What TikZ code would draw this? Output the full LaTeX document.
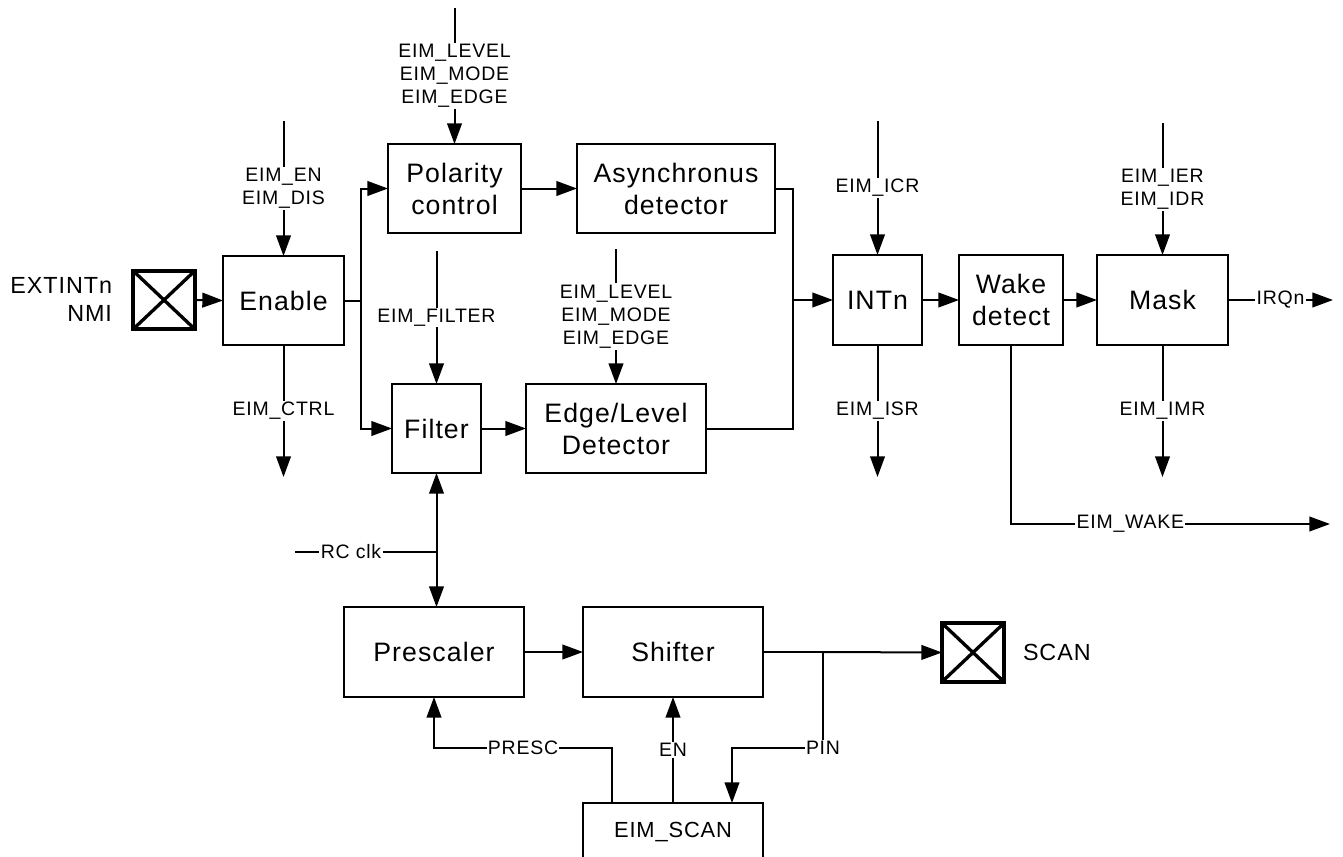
\documentclass[tikz,border=0pt]{standalone}
\usepackage{fontspec}
\setmainfont{Liberation Sans}[LetterSpace=4]
\usepackage{tikz}
\usetikzlibrary{arrows.meta}

\begin{document}
\begin{tikzpicture}[x=0.75pt,y=0.75pt,yscale=-1,xscale=1,line width=1.5pt,
  blk/.style={draw,line width=1.5pt,inner sep=0pt,outer sep=0pt,align=center,font=\fontsize{20}{24}\selectfont},
  sz/.style 2 args={minimum width=#1*0.75pt,minimum height=#2*0.75pt},
  pad/.style={draw,line width=3pt,inner sep=0pt,outer sep=0pt,minimum width=46.5pt,minimum height=44pt},
  sig/.style={fill=white,inner sep=1pt,align=center,font=\fontsize{14.6}{17.3}\selectfont},
  io/.style={inner sep=0pt,font=\fontsize{17.5}{21}\selectfont},
  arr/.style={-{Triangle[length=15.5pt,width=11pt]}},
  darr/.style={{Triangle[length=15.5pt,width=11pt]}-{Triangle[length=15.5pt,width=11pt]}}]
\useasboundingbox (0,0) rectangle (1343,857);
\clip (0,0) rectangle (1343,857);

%Shape: Pads
\node [pad] (extint) at (164,300) {};
\draw [line width=2.5pt] (extint.north west) -- (extint.south east) (extint.north east) -- (extint.south west);
\node [pad] (scanpad) at (973,652.5) {};
\draw [line width=2.5pt] (scanpad.north west) -- (scanpad.south east) (scanpad.north east) -- (scanpad.south west);
% Text Node
\node [io,anchor=east,align=right] (extlbl) at (113,299) {EXTINTn\\NMI};
% Text Node
\node [io,anchor=west] (scanlbl) at (1022,652) {SCAN};

%Shape: Blocks
\node [blk,sz={121}{89}] (enable) at (283.5,300.5) {Enable};
\node [blk,sz={133}{89}] (polarity) at (454.5,188.5) {Polarity\\control};
\node [blk,sz={198}{89}] (async) at (676,188.5) {Asynchronus\\detector};
\node [blk,sz={89}{89}] (filter) at (436.5,428.5) {Filter};
\node [blk,sz={180}{89}] (edgelvl) at (616,428.5) {Edge/Level\\Detector};
\node [blk,sz={89}{90}] (intn) at (877.5,300) {INTn};
\node [blk,sz={104}{90}] (wake) at (1011,300) {Wake\\detect};
\node [blk,sz={131}{90}] (mask) at (1162.5,300) {Mask};
\node [blk,sz={180}{90}] (presc) at (434,652) {Prescaler};
\node [blk,sz={180}{90}] (shifter) at (673,652) {Shifter};
\node [blk,sz={180}{58},font=\fontsize{16.4}{20}\selectfont] (scanreg) at (673,832) {EIM\_SCAN};

%Coordinates: free ends and bends
\coordinate (enin) at (283.5,121);
\coordinate (ctrlout) at (283.5,477);
\coordinate (bus) at (361,300.5);
\coordinate (levtop) at (454.5,8);
\coordinate (filtin) at (436.5,251);
\coordinate (edgein) at (616,249);
\coordinate (join) at (793,300);
\coordinate (icrin) at (877.5,121);
\coordinate (isrout) at (877.5,477);
\coordinate (ierin) at (1162.5,123);
\coordinate (imrout) at (1162.5,477);
\coordinate (irqout) at (1333,300);
\coordinate (wakeout) at (1330,524);
\coordinate (rcin) at (295,552);
\coordinate (rctap) at (436.5,552);
\coordinate (pintap) at (823,652);
\coordinate (pinbend) at (732,748);
\coordinate (pinin) at (732,803);
\coordinate (presctap) at (612,803);
\coordinate (prescbend) at (434,748);

%Straight Lines: input side
\draw [arr] (extint.east) -- (enable.west);
\draw [arr] (enin) -- node [sig] {EIM\_EN\\EIM\_DIS} (enable.north);
\draw [arr] (enable.south) -- node [sig] {EIM\_CTRL} (ctrlout);
\draw (enable.east) -- (bus);
\draw [arr] (bus) |- (polarity.west);
\draw [arr] (bus) |- (filter.west);
\draw [arr] (levtop) -- node [sig] {EIM\_LEVEL\\EIM\_MODE\\EIM\_EDGE} (polarity.north);
\draw [arr] (filtin) -- node [sig] {EIM\_FILTER} (filter.north);
\draw [arr] (edgein) -- node [sig] {EIM\_LEVEL\\EIM\_MODE\\EIM\_EDGE} (edgelvl.north);
\draw [arr] (polarity.east) -- (async.west);
\draw [arr] (filter.east) -- (edgelvl.west);

%Straight Lines: interrupt path
\draw (async.east) -| (join);
\draw (edgelvl.east) -| (join);
\draw [arr] (join) -- (intn.west);
\draw [arr] (icrin) -- node [sig] {EIM\_ICR} (intn.north);
\draw [arr] (intn.south) -- node [sig] {EIM\_ISR} (isrout);
\draw [arr] (intn.east) -- (wake.west);
\draw [arr] (wake.east) -- (mask.west);
\draw [arr] (ierin) -- node [sig] {EIM\_IER\\EIM\_IDR} (mask.north);
\draw [arr] (mask.south) -- node [sig] {EIM\_IMR} (imrout);
\draw [arr] (mask.east) -- node [sig] {IRQn} (irqout);
\draw [arr] (wake.south) |- node [sig,pos=0.687] {EIM\_WAKE} (wakeout);

%Straight Lines: scan path
\draw [darr] (filter.south) -- (filter.south |- presc.north);
\draw (rcin) -- node [sig,pos=0.396] {RC clk} (rctap);
\draw [arr] (presc.east) -- (shifter.west);
\draw (shifter.east) -- (pintap);
\draw [arr] (pintap) -- (scanpad.west);
\draw [arr] (pintap) |- node [sig] {PIN} (pinbend) -- (pinin);
\draw [arr] (scanreg.north) -- node [sig] {EN} (shifter.south);
\draw [arr] (presctap) |- node [sig,pos=0.75] {PRESC} (prescbend) -- (presc.south);
\end{tikzpicture}
\end{document}
